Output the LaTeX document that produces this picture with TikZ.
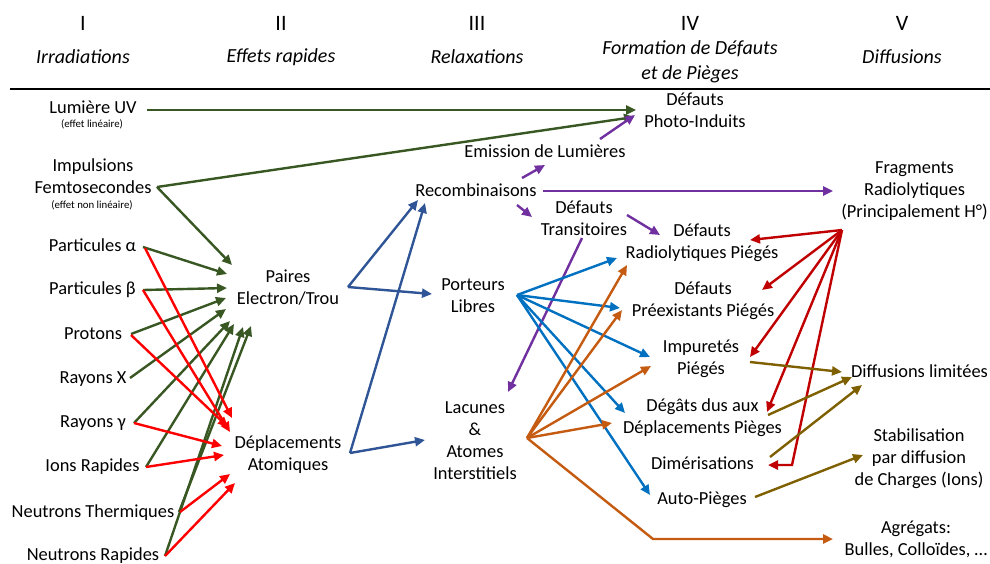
\documentclass[tikz,border=0pt]{standalone}
\usepackage{fontspec}
\setmainfont{Carlito}
\usetikzlibrary{arrows.meta}

\definecolor{raygreen}{RGB}{56,87,35}
\definecolor{hitred}{RGB}{255,0,0}
\definecolor{relaxblue}{RGB}{47,85,151}
\definecolor{lightviolet}{RGB}{112,48,160}
\definecolor{carrierblue}{RGB}{0,112,192}
\definecolor{defectorange}{RGB}{197,90,17}
\definecolor{fragred}{RGB}{192,0,0}
\definecolor{diffolive}{RGB}{127,96,0}

\begin{document}
\begin{tikzpicture}[
            > = {Triangle[length=5pt,width=4.5pt]}, % arrow head style
            x = 0.5pt, y = -0.5pt, % one unit per pixel of the sketch
            line width = 1.2pt % line style
        ]

        \tikzstyle{every node}=[
        align = center,
        inner sep = 1pt,
        font = \fontsize{9.2}{11}\selectfont
        ]
        \tikzstyle{headnum}=[font=\fontsize{11}{13}\selectfont]
        \tikzstyle{head}=[font=\fontsize{10}{12.5}\selectfont\itshape]
        \tikzstyle{note}=[font=\fontsize{5.4}{6.5}\selectfont]
        \tikzstyle{ray}=[->, draw=raygreen]
        \tikzstyle{hit}=[->, draw=hitred]
        \tikzstyle{relax}=[->, draw=relaxblue]
        \tikzstyle{light}=[->, draw=lightviolet]
        \tikzstyle{carrier}=[->, draw=carrierblue]
        \tikzstyle{defect}=[->, draw=defectorange]
        \tikzstyle{frag}=[->, draw=fragred]
        \tikzstyle{diff}=[->, draw=diffolive]

        \useasboundingbox (0,0) rectangle (990,563);

        % column heads
        \node[headnum] (n1) at (83,23) {I};
        \node[head] (t1) at (83,57) {Irradiations};
        \node[headnum] (n2) at (281,23) {II};
        \node[head] (t2) at (281,57) {Effets rapides};
        \node[headnum] (n3) at (477,23) {III};
        \node[head] (t3) at (477,57) {Relaxations};
        \node[headnum] (n4) at (690,23) {IV};
        \node[head] (t4) at (690,61.5) {Formation de Défauts\\et de Pièges};
        \node[headnum] (n5) at (902,23) {V};
        \node[head] (t5) at (902,57) {Diffusions};

        \draw[line width=1pt] (10,89) -- (990,89);

        % I
        \node (uv) at (93,107) {Lumière UV};
        \node[note] (uvnote) at (92,124) {(effet linéaire)};
        \node (femto) at (93,176) {Impulsions\\Femtosecondes};
        \node[note] (femtonote) at (92,205) {(effet non linéaire)};
        \node (alpha) at (92.5,245) {Particules α};
        \node (beta) at (92.5,290) {Particules β};
        \node (protons) at (93,334) {Protons};
        \node (rayx) at (93,379) {Rayons X};
        \node (raygamma) at (93,423) {Rayons γ};
        \node (ions) at (92.5,467) {Ions Rapides};
        \node (nthermal) at (93,513) {Neutrons Thermiques};
        \node (nfast) at (93,556) {Neutrons Rapides};

        % II
        \node (paires) at (288,287.5) {Paires\\Electron/Trou};
        \node (deplac) at (288,454.5) {Déplacements\\Atomiques};

        % III
        \node (emission) at (545,151) {Emission de Lumières};
        \node (recomb) at (476,190) {Recombinaisons};
        \node (transit) at (584,218) {Défauts\\Transitoires};
        \node (porteurs) at (473,295.5) {Porteurs\\Libres};
        \node (lacunes) at (475,440.5) {Lacunes\\\&\\Atomes\\Interstitiels};

        % IV
        \node (photo) at (695,110.5) {Défauts\\Photo-Induits};
        \node (radio) at (702,243) {Défauts\\Radiolytiques Piégés};
        \node (preex) at (703,301) {Défauts\\Préexistants Piégés};
        \node (impur) at (701,358.5) {Impuretés\\Piégés};
        \node (degats) at (702.5,418) {Dégâts dus aux\\Déplacements Pièges};
        \node (dimer) at (702.5,463) {Dimérisations};
        \node (auto) at (702,500) {Auto-Pièges};

        % V
        \node (fragments) at (914.5,191.5) {Fragments\\Radiolytiques\\(Principalement H°)};
        \node (difflim) at (919.5,371) {Diffusions limitées};
        \node (stabil) at (919,459) {Stabilisation\\par diffusion\\de Charges (Ions)};
        \node (agreg) at (916,539.5) {Agrégats:\\Bulles, Colloïdes, …};

        % irradiations -> pairs and photo defects
        \draw[ray] ([shift={(54,3)}]uv.center) -- ([shift={(-59,-0.5)}]photo.center);
        \draw[ray] ([shift={(64,11)}]femto.center) -- ([shift={(-61,6.5)}]photo.center);
        \draw[ray] ([shift={(64,11)}]femto.center) -- ([shift={(-56,-22.5)}]paires.center);
        \draw[ray] ([shift={(50.5,2)}]alpha.center) -- ([shift={(-61,-13.5)}]paires.center);
        \draw[ray] ([shift={(50.5,0)}]beta.center) -- ([shift={(-61,0.5)}]paires.center);
        \draw[ray] ([shift={(38,0)}]protons.center) -- ([shift={(-62,10.5)}]paires.center);
        \draw[ray] ([shift={(37,-1)}]rayx.center) -- ([shift={(-62,21.5)}]paires.center);
        \draw[ray] ([shift={(41,0)}]raygamma.center) -- ([shift={(-58,33.5)}]paires.center);
        \draw[ray] ([shift={(53.5,0)}]ions.center) -- ([shift={(-54,36.5)}]paires.center);
        \draw[ray] ([shift={(86,-1)}]nthermal.center) -- ([shift={(-37,38.5)}]paires.center);
        \draw[ray] ([shift={(72,0)}]nfast.center) -- ([shift={(-45,39.5)}]paires.center);

        % irradiations -> displacements
        \draw[hit] ([shift={(52.5,3)}]alpha.center) -- ([shift={(-56,-36.5)}]deplac.center);
        \draw[hit] ([shift={(50.5,0)}]beta.center) -- ([shift={(-58,-22.5)}]deplac.center);
        \draw[hit] ([shift={(38,1)}]protons.center) -- ([shift={(-60,-27.5)}]deplac.center);
        \draw[hit] ([shift={(41,0)}]raygamma.center) -- ([shift={(-66,-8.5)}]deplac.center);
        \draw[hit] ([shift={(53.5,0)}]ions.center) -- ([shift={(-64,0.5)}]deplac.center);
        \draw[hit] ([shift={(87,-1)}]nthermal.center) -- ([shift={(-58,19.5)}]deplac.center);
        \draw[hit] ([shift={(72,0)}]nfast.center) -- ([shift={(-53,28.5)}]deplac.center);

        % relaxations
        \draw[relax] ([shift={(60,-0.5)}]paires.center) -- ([shift={(-58,10)}]recomb.center);
        \draw[relax] ([shift={(60,-0.5)}]paires.center) -- ([shift={(-41,-1.5)}]porteurs.center);
        \draw[relax] ([shift={(62,-1.5)}]deplac.center) -- ([shift={(-51,13)}]recomb.center);
        \draw[relax] ([shift={(62,-1.5)}]deplac.center) -- ([shift={(-50,-0.5)}]lacunes.center);

        % recombinations
        \draw[light] ([shift={(46,-12)}]recomb.center) -- ([shift={(0,14)}]emission.center);
        \draw[light] ([shift={(55,-12)}]emission.center) -- ([shift={(-60,4.5)}]photo.center);
        \draw[light] ([shift={(67,1)}]recomb.center) -- ([shift={(-81.5,-0.5)}]fragments.center);
        \draw[light] ([shift={(41,15)}]recomb.center) -- ([shift={(-52,-1)}]transit.center);
        \draw[light] ([shift={(43,-3)}]transit.center) -- ([shift={(-42,-8)}]radio.center);
        \draw[light] ([shift={(-2,20)}]transit.center) -- ([shift={(33,-48.5)}]lacunes.center);

        % free carriers
        \draw[carrier] ([shift={(44,-0.5)}]porteurs.center) -- ([shift={(-85,15)}]radio.center);
        \draw[carrier] ([shift={(44,-0.5)}]porteurs.center) -- ([shift={(-83,7)}]preex.center);
        \draw[carrier] ([shift={(44,-0.5)}]porteurs.center) -- ([shift={(-51,-1.5)}]impur.center);
        \draw[carrier] ([shift={(44,-0.5)}]porteurs.center) -- ([shift={(-77.5,-5)}]degats.center);
        \draw[carrier] ([shift={(44,-0.5)}]porteurs.center) -- ([shift={(-52,-5)}]auto.center);

        % vacancies and interstitials
        \draw[defect] ([shift={(52,-2.5)}]lacunes.center) -- ([shift={(-75,22)}]radio.center);
        \draw[defect] ([shift={(52,-2.5)}]lacunes.center) -- ([shift={(-81,9)}]preex.center);
        \draw[defect] ([shift={(52,-2.5)}]lacunes.center) -- ([shift={(-50,7.5)}]impur.center);
        \draw[defect] ([shift={(52,-2.5)}]lacunes.center) -- ([shift={(-90.5,5)}]degats.center);
        \draw[defect] ([shift={(52,-2.5)}]lacunes.center) -- ++(126,101) -- ([shift={(-83,-0.5)}]agreg.center);

        % radiolytic fragments
        \draw[frag] ([shift={(-72.5,38.5)}]fragments.center) -- ([shift={(48,-3)}]radio.center);
        \draw[frag] ([shift={(-72.5,38.5)}]fragments.center) -- ([shift={(59,-11)}]preex.center);
        \draw[frag] ([shift={(-72.5,38.5)}]fragments.center) -- ([shift={(49,-1.5)}]impur.center);
        \draw[frag] ([shift={(-72.5,38.5)}]fragments.center) -- ([shift={(64.5,-6)}]degats.center);
        \draw[frag] ([shift={(-72.5,38.5)}]fragments.center) -- ++(-50,235) -- ([shift={(65.5,2)}]dimer.center);

        % diffusions
        \draw[diff] ([shift={(49,3.5)}]impur.center) -- ([shift={(-77.5,1)}]difflim.center);
        \draw[diff] ([shift={(65.5,-3)}]degats.center) -- ([shift={(-67.5,6)}]difflim.center);
        \draw[diff] ([shift={(67.5,-6)}]dimer.center) -- ([shift={(-57.5,14)}]difflim.center);
        \draw[diff] ([shift={(53,-3)}]auto.center) -- ([shift={(-56,-4)}]stabil.center);
    \end{tikzpicture}
\end{document}
